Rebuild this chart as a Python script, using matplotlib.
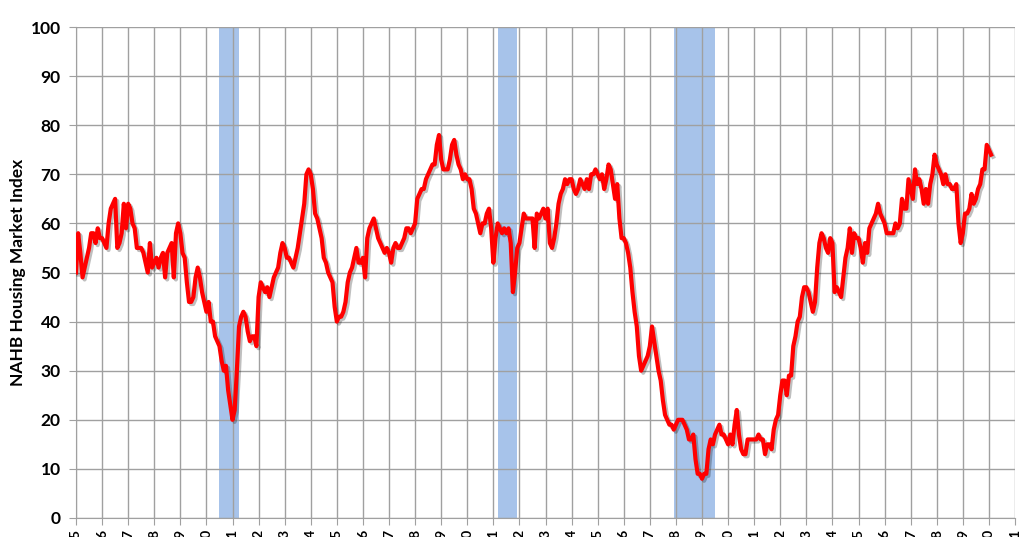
import matplotlib
matplotlib.use("Agg")
import matplotlib.pyplot as plt
import matplotlib.patheffects as pe
import numpy as np

# Monthly NAHB Housing Market Index values, Jan 1985 .. Feb 2020
hmi_1985 = [50, 58, 54, 49, 51, 53, 55, 58, 58, 56, 59, 57]
hmi_1986 = [57, 56, 55, 60, 63, 64, 65, 55, 56, 58, 64, 59]
hmi_1987 = [64, 63, 60, 59, 55, 55, 55, 54, 52, 50, 56, 51]
hmi_1988 = [52, 53, 51, 53, 54, 49, 54, 55, 56, 49, 58, 60]
hmi_1989 = [58, 54, 53, 48, 44, 44, 45, 49, 51, 49, 46, 44]
hmi_1990 = [42, 44, 40, 40, 37, 36, 35, 32, 30, 31, 26, 23]
hmi_1991 = [20, 22, 30, 39, 41, 42, 41, 38, 36, 37, 37, 35]
hmi_1992 = [45, 48, 47, 46, 47, 45, 47, 49, 50, 51, 54, 56]
hmi_1993 = [55, 53, 53, 52, 51, 53, 55, 58, 61, 64, 70, 71]
hmi_1994 = [70, 67, 62, 61, 59, 57, 53, 52, 50, 49, 48, 43]
hmi_1995 = [40, 41, 41, 42, 44, 48, 50, 51, 53, 55, 52, 52]
hmi_1996 = [53, 49, 57, 59, 60, 61, 59, 57, 56, 55, 54, 55]
hmi_1997 = [54, 52, 55, 56, 55, 55, 56, 57, 59, 59, 58, 59]
hmi_1998 = [60, 65, 66, 67, 67, 69, 70, 71, 72, 72, 76, 78]
hmi_1999 = [73, 71, 71, 71, 73, 76, 77, 74, 72, 71, 69, 70]
hmi_2000 = [69, 69, 67, 63, 62, 60, 58, 60, 60, 62, 63, 59]
hmi_2001 = [52, 57, 60, 59, 58, 59, 58, 59, 56, 46, 50, 55]
hmi_2002 = [56, 59, 62, 61, 61, 61, 61, 55, 62, 61, 62, 63]
hmi_2003 = [61, 63, 56, 55, 57, 60, 64, 66, 67, 69, 68, 69]
hmi_2004 = [69, 67, 66, 67, 69, 68, 67, 69, 67, 70, 70, 71]
hmi_2005 = [70, 69, 70, 67, 69, 72, 71, 68, 65, 68, 61, 57]
hmi_2006 = [57, 56, 54, 51, 46, 42, 39, 33, 30, 31, 32, 33]
hmi_2007 = [35, 39, 36, 33, 30, 28, 24, 21, 20, 19, 19, 18]
hmi_2008 = [19, 20, 20, 20, 19, 18, 16, 16, 17, 12, 9, 9]
hmi_2009 = [8, 9, 9, 14, 16, 15, 17, 18, 19, 17, 17, 16]
hmi_2010 = [15, 17, 15, 19, 22, 17, 14, 13, 13, 16, 16, 16]
hmi_2011 = [16, 16, 17, 16, 16, 13, 15, 15, 14, 18, 20, 21]
hmi_2012 = [25, 28, 28, 25, 29, 29, 35, 37, 40, 41, 45, 47]
hmi_2013 = [47, 46, 44, 42, 44, 51, 56, 58, 57, 55, 54, 57]
hmi_2014 = [56, 46, 47, 46, 45, 49, 53, 55, 59, 54, 58, 57]
hmi_2015 = [57, 55, 52, 56, 54, 59, 60, 61, 62, 64, 62, 61]
hmi_2016 = [60, 58, 58, 58, 58, 60, 59, 60, 65, 63, 63, 69]
hmi_2017 = [67, 65, 71, 68, 69, 67, 64, 67, 64, 68, 70, 74]
hmi_2018 = [72, 71, 70, 68, 70, 68, 68, 67, 67, 68, 60, 56]
hmi_2019 = [58, 62, 62, 63, 66, 64, 65, 67, 68, 71, 71, 76]
hmi_2020 = [75, 74]

start_year = 1985
years_all = [hmi_1985, hmi_1986, hmi_1987, hmi_1988, hmi_1989, hmi_1990,
             hmi_1991, hmi_1992, hmi_1993, hmi_1994, hmi_1995, hmi_1996,
             hmi_1997, hmi_1998, hmi_1999, hmi_2000, hmi_2001, hmi_2002,
             hmi_2003, hmi_2004, hmi_2005, hmi_2006, hmi_2007, hmi_2008,
             hmi_2009, hmi_2010, hmi_2011, hmi_2012, hmi_2013, hmi_2014,
             hmi_2015, hmi_2016, hmi_2017, hmi_2018, hmi_2019, hmi_2020]

# Recessions (start, end) as fractional years
recessions = [(1990 + 6/12, 1991 + 3/12),
              (2001 + 2/12, 2001 + 11/12),
              (2007 + 11/12, 2009 + 6/12)]

tick_years = list(range(1985, 2022))
tick_labels = [f"{y % 100:02d}" for y in tick_years]
y_ticks = list(range(0, 101, 10))

values = np.concatenate([np.array(v, dtype=float) for v in years_all])
t = start_year + np.arange(len(values)) / 12.0

plt.rcParams['font.family'] = ['Lato', 'DejaVu Sans']

fig = plt.figure(figsize=(10.24, 5.37), dpi=100)
ax = fig.add_axes([76/1024, 19/537, (1015-76)/1024, (518-27)/537])

for s, e in recessions:
    ax.axvspan(s, e, color='#a7c3ea', zorder=0, lw=0)

ax.set_axisbelow(True)
ax.grid(True, color='#a0a0a0', linewidth=1.0, zorder=0.5)

ax.plot(t, values, color='#ff0000', linewidth=3.0, solid_joinstyle='round',
        zorder=3,
        path_effects=[pe.SimpleLineShadow(offset=(1.5, -1.5), alpha=0.25,
                                          shadow_color='black'),
                      pe.Normal()])

ax.set_xlim(1985, 2021)
ax.set_ylim(0, 100)
ax.set_xticks(tick_years)
ax.set_xticklabels(tick_labels, rotation=90, fontsize=10, fontweight='bold',
                   va='top')
ax.set_yticks(y_ticks)
ax.set_yticklabels([str(v) for v in y_ticks], fontsize=12.5, fontweight='bold')

for side in ['top', 'right']:
    ax.spines[side].set_visible(False)
ax.spines['left'].set_color('#a0a0a0')
ax.spines['bottom'].set_color('#a0a0a0')
ax.tick_params(axis='both', colors='#a0a0a0', labelcolor='black', length=5)
ax.tick_params(axis='x', pad=3)
ax.tick_params(axis='y', pad=6)

ax.set_ylabel("NAHB Housing Market Index", fontsize=12.5, fontweight='bold')
ax.yaxis.set_label_coords(-(76 - 26) / 939, 0.5)

fig.savefig("out.png", dpi=100)
